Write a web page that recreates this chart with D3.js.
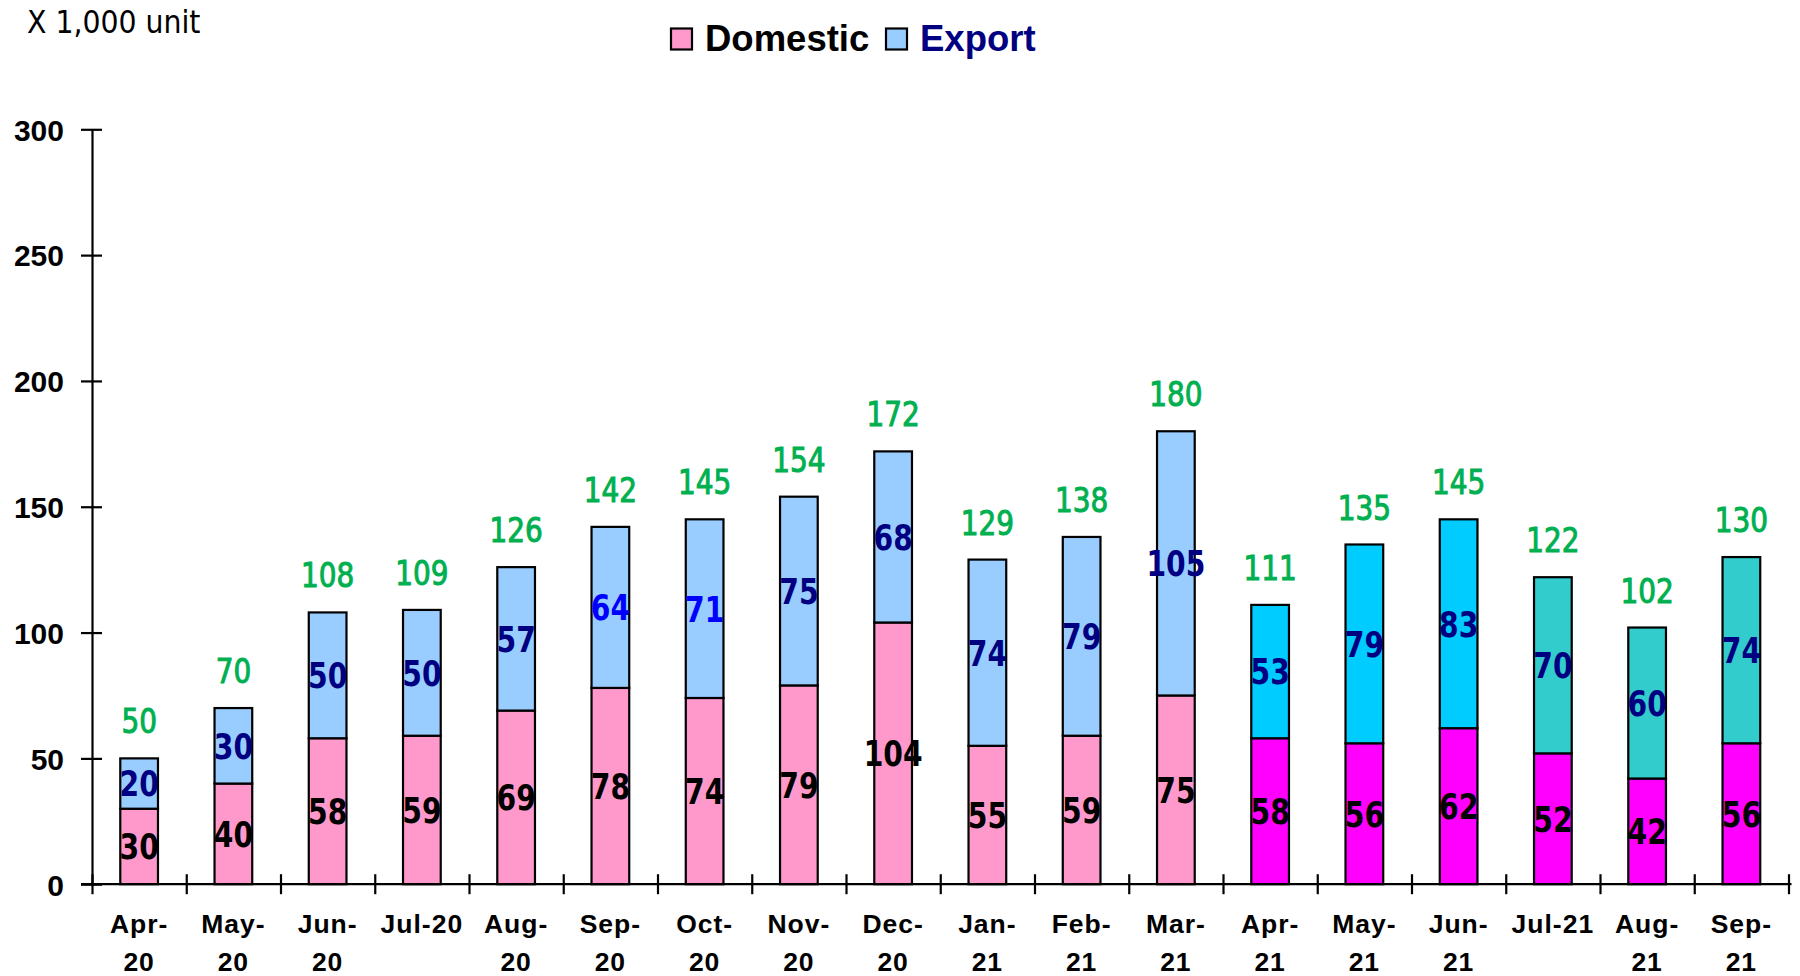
<!DOCTYPE html>
<html><head><meta charset="utf-8">
<script src="https://cdn.jsdelivr.net/npm/d3@7"></script>
<style>body{margin:0;background:#fff}</style>
</head><body><svg id="chart" width="1800" height="976"></svg>
<script>
const categories = ["Apr-20","May-20","Jun-20","Jul-20","Aug-20","Sep-20","Oct-20","Nov-20","Dec-20","Jan-21","Feb-21","Mar-21","Apr-21","May-21","Jun-21","Jul-21","Aug-21","Sep-21"];
const tickLabels = [["Apr-","20"],["May-","20"],["Jun-","20"],["Jul-20"],["Aug-","20"],["Sep-","20"],["Oct-","20"],["Nov-","20"],["Dec-","20"],["Jan-","21"],["Feb-","21"],["Mar-","21"],["Apr-","21"],["May-","21"],["Jun-","21"],["Jul-21"],["Aug-","21"],["Sep-","21"]];
const domestic = [30,40,58,59,69,78,74,79,104,55,59,75,58,56,62,52,42,56];
const exportUnits = [20,30,50,50,57,64,71,75,68,74,79,105,53,79,83,70,60,74];
const totals = [50,70,108,109,126,142,145,154,172,129,138,180,111,135,145,122,102,130];
const periods = ["FY20","FY20","FY20","FY20","FY20","FY20","FY20","FY20","FY20","FY20","FY20","FY20","Q1-21","Q1-21","Q1-21","Q2-21","Q2-21","Q2-21"];
const yTicks = [0,50,100,150,200,250,300];
const seriesNames = ["Domestic","Export"];

const domColor = {"FY20":"#FF99CC","Q1-21":"#FF00FF","Q2-21":"#FF00FF"};
const expColor = {"FY20":"#99CCFF","Q1-21":"#00CCFF","Q2-21":"#33CCCC"};
const brightLabelMonths = ["Sep-20","Oct-20"];

(function draw() {
const svg = d3.select("#chart");
const mLeft = 92, mRight = 1788.5, mBottom = 884.2, mTop = 129.3;
const x = d3.scaleBand().domain(categories).range([mLeft, mRight]).paddingInner(0.6).paddingOuter(0.3);
const xEdge = d3.scaleLinear().domain([0, categories.length]).range([mLeft, mRight]);
const y = d3.scaleLinear().domain([0, 300]).range([mBottom, mTop]);

const table = categories.map((c, i) => ({cat: c, period: periods[i], Domestic: domestic[i], Export: exportUnits[i], total: totals[i]}));
const stack = d3.stack().keys(seriesNames)(table);

// bars
const g = svg.append("g");
stack.forEach(layer => {
  g.selectAll(null).data(layer).enter().append("rect")
    .attr("x", d => x(d.data.cat))
    .attr("width", x.bandwidth())
    .attr("y", d => y(d[1]))
    .attr("height", d => y(d[0]) - y(d[1]))
    .attr("fill", d => layer.key === "Domestic" ? domColor[d.data.period] : expColor[d.data.period])
    .attr("stroke", "#000").attr("stroke-width", 2.2);
});

// y axis
const yAxis = svg.append("g").attr("transform", `translate(${mLeft},0)`)
  .call(d3.axisLeft(y).tickValues(yTicks).tickSizeOuter(0).tickSizeInner(11).tickPadding(17));
yAxis.select(".domain").attr("stroke", "#000").attr("stroke-width", 2.2);
yAxis.selectAll(".tick line").attr("x1", -11).attr("x2", 10).attr("stroke-width", 2.2);
yAxis.selectAll(".tick text").attr("font-family", "'Liberation Sans', Arial, sans-serif")
  .attr("font-weight", "bold").attr("font-size", 30).attr("fill", "#000").attr("dy", "0.36em");

// x axis (boundary ticks)
const xAxis = svg.append("g").attr("transform", `translate(0,${mBottom})`)
  .call(d3.axisBottom(xEdge).tickValues(d3.range(categories.length + 1)).tickFormat("").tickSizeOuter(0));
xAxis.select(".domain").attr("d", `M${mLeft - 11},0H${mRight + 3}`).attr("stroke", "#000").attr("stroke-width", 2.2);
xAxis.selectAll(".tick line").attr("y1", -10).attr("y2", 10).attr("stroke-width", 2.2);

// x labels
const xl = svg.append("g");
categories.forEach((c, i) => {
  const t = xl.append("text")
    .attr("x", x(c) + x.bandwidth() / 2)
    .attr("y", 933)
    .attr("text-anchor", "middle")
    .attr("font-family", "'Liberation Sans', Arial, sans-serif")
    .attr("font-weight", "bold").attr("font-size", 26.5)
    .attr("letter-spacing", 1);
  tickLabels[i].forEach((line, k) => {
    t.append("tspan").attr("x", x(c) + x.bandwidth() / 2).attr("dy", k === 0 ? 0 : 38).text(line);
  });
});

const labelFont = "'DejaVu Sans Condensed', 'DejaVu Sans', sans-serif";
const cx = c => x(c) + x.bandwidth() / 2;
const segTransform = (px, py) => `translate(${px},${py}) scale(0.98,1.12)`;

// segment labels
svg.append("g").selectAll("text").data(table).enter().append("text")
  .attr("transform", d => segTransform(cx(d.cat), y(d.Domestic / 2)))
  .attr("dy", "0.36em")
  .attr("text-anchor", "middle").attr("font-family", labelFont).attr("font-weight", "bold")
  .attr("font-size", 32).attr("fill", "#000").text(d => d.Domestic);

svg.append("g").selectAll("text").data(table).enter().append("text")
  .attr("transform", d => segTransform(cx(d.cat), y(d.Domestic + d.Export / 2)))
  .attr("dy", "0.36em")
  .attr("text-anchor", "middle").attr("font-family", labelFont).attr("font-weight", "bold")
  .attr("font-size", 32).attr("fill", d => brightLabelMonths.includes(d.cat) ? "#0000FF" : "#000080")
  .text(d => d.Export);

// total labels
svg.append("g").selectAll("text").data(table).enter().append("text")
  .attr("transform", d => `translate(${cx(d.cat)},${y(d.total) - 37}) scale(1,1.08)`)
  .attr("dy", "0.36em")
  .attr("text-anchor", "middle").attr("font-family", labelFont)
  .attr("font-size", 31).attr("fill", "#00B050")
  .attr("stroke", "#00B050").attr("stroke-width", 0.9).text(d => d.total);

// unit label
svg.append("text").attr("x", 27).attr("y", 33)
  .attr("font-family", labelFont).attr("font-size", 31.5).attr("fill", "#000").text("X 1,000 unit");

// legend
const legend = svg.append("g");
const legendItems = [
  {name: seriesNames[0], fill: domColor.FY20, color: "#000", x: 671, tx: 705},
  {name: seriesNames[1], fill: expColor.FY20, color: "#000080", x: 886, tx: 920}
];
legendItems.forEach(it => {
  legend.append("rect").attr("x", it.x).attr("y", 28.5).attr("width", 21).attr("height", 21)
    .attr("fill", it.fill).attr("stroke", "#000").attr("stroke-width", 2.2);
  legend.append("text").attr("x", it.tx).attr("y", 50.5)
    .attr("font-family", "'Liberation Sans', Arial, sans-serif").attr("font-weight", "bold")
    .attr("font-size", 36.5).attr("fill", it.color).text(it.name);
});
})();
</script></body></html>
